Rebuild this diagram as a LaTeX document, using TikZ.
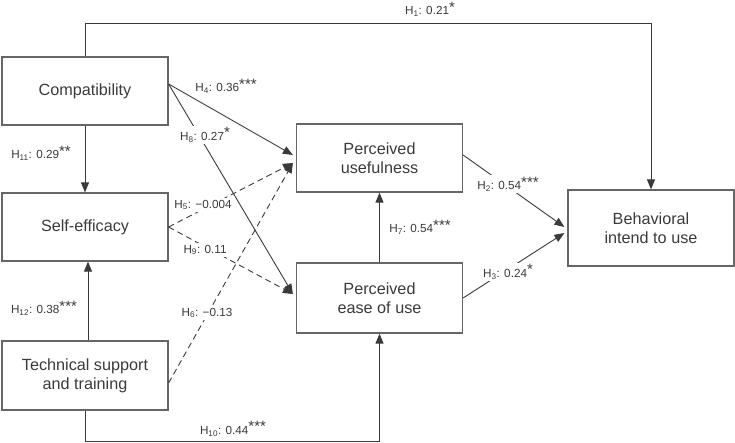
\documentclass[tikz,border=0pt]{standalone}
\usepackage{fontspec}
\setmainfont{Liberation Sans}
\usetikzlibrary{arrows.meta,calc}
\definecolor{txt}{HTML}{3A3A3A}
\definecolor{boxc}{HTML}{666666}
\definecolor{lnc}{HTML}{3A3A3A}
\newcommand{\stars}[1]{\raisebox{2.5pt}{\fontsize{15}{15}\selectfont #1}}
\begin{document}
\begin{tikzpicture}[x=1pt,y=-1pt,
  varbox/.style={draw=boxc,line width=1.2pt,minimum width=166pt,minimum height=68pt,
    align=center,text=txt,font=\fontsize{16.2}{19}\selectfont,inner sep=0pt},
  lab/.style={fill=white,text=txt,font=\fontsize{11.7}{14}\selectfont,inner sep=1.5pt},
  conn/.style={draw=lnc,line width=0.9pt,-{Triangle[length=10pt,width=8pt]}},
  dconn/.style={conn,dash pattern=on 6pt off 4pt},
  plain/.style={draw=lnc,line width=0.9pt}]
\useasboundingbox (0,0) rectangle (735,443);
% boxes
\node[varbox] (comp) at (85,91) {Compatibility};
\node[varbox] (se) at (85,227) {Self-efficacy};
\node[varbox,minimum height=69pt] (tech) at (85,375.5) {Technical support\\and training};
\node[varbox] (use) at (379.5,158) {Perceived\\usefulness};
\node[varbox,minimum height=70pt] (ease) at (379.5,298) {Perceived\\ease of use};
\node[varbox,minimum height=76pt] (beh) at (651,228) {Behavioral\\intend to use};
% coordinates
\coordinate (c1) at ($(comp.north)+(0,-33)$);
\coordinate (c2) at ($(beh.north)+(0,-166)$);
\coordinate (t1) at ($(tech.south)+(0,31)$);
\coordinate (t2) at ($(ease.south)+(0,108)$);
% H1
\draw[conn] (comp.north) -- (c1) -- (c2) -- (beh.north);
% H11, H12
\draw[conn] (comp.south) -- (se.north);
\draw[conn] ($(tech.north)+(3,0)$) -- ($(se.south)+(3,0)$);
% H10
\draw[conn] (tech.south) -- (t1) -- (t2) -- (ease.south);
% H7
\draw[conn] (ease.north) -- (use.south);
% H4, H8
\draw[conn] ($(comp.east)+(0,-7)$) -- ($(use.west)+(-3,-3)$);
\draw[conn] ($(comp.east)+(0,-7)$) -- ($(ease.west)+(-3,-4)$);
% dashed H5, H9, H6
\draw[dconn] (se.east) -- ($(use.west)+(-3,5)$);
\draw[dconn] (se.east) -- ($(ease.west)+(-3,-4)$);
\draw[dconn] ($(tech.east)+(0,7.5)$) -- ($(use.west)+(-3,5)$);
% H2, H3
\draw[conn] ($(use.east)+(0,-3)$) -- ($(beh.west)+(-3,-1)$);
\draw[conn] (ease.east) -- ($(beh.west)+(-3,5)$);
% labels
\node[lab] (l1) at (430,9) {H\textsubscript{1}: 0.21\stars{*}};
\node[lab] (l4) at (226,86) {H\textsubscript{4}: 0.36\stars{***}};
\node[lab] (l8) at (205,135) {H\textsubscript{8}: 0.27\stars{*}};
\node[lab] (l11) at (41,153) {H\textsubscript{11}: 0.29\stars{**}};
\node[lab] (l5) at (203,205) {H\textsubscript{5}: −0.004};
\node[lab] (l9) at (205,250) {H\textsubscript{9}: 0.11};
\node[lab] (l6) at (207,313) {H\textsubscript{6}: −0.13};
\node[lab] (l12) at (44,308) {H\textsubscript{12}: 0.38\stars{***}};
\node[lab] (l10) at (233,429) {H\textsubscript{10}: 0.44\stars{***}};
\node[lab] (l7) at (420,227) {H\textsubscript{7}: 0.54\stars{***}};
\node[lab] (l2) at (508,184) {H\textsubscript{2}: 0.54\stars{***}};
\node[lab] (l3) at (508,272) {H\textsubscript{3}: 0.24\stars{*}};
\end{tikzpicture}
\end{document}
